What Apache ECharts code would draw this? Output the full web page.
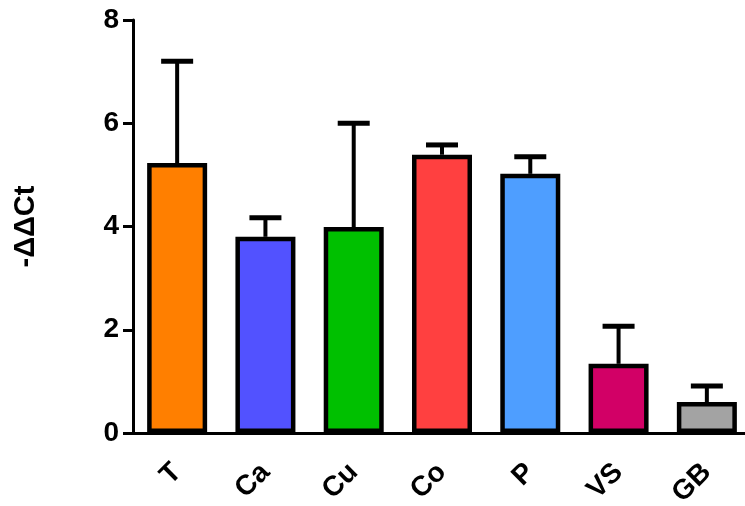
<!DOCTYPE html>
<html><head><meta charset="utf-8">
<script src="https://cdn.jsdelivr.net/npm/echarts@6/dist/echarts.min.js"></script>
<style>html,body{margin:0;padding:0;background:#fff}#c{width:745px;height:506px}</style>
</head><body><div id="c"></div>
<script>
const categories = ['T','Ca','Cu','Co','P','VS','GB'];
const means = [5.23, 3.80, 3.99, 5.39, 5.02, 1.34, 0.60];
const errors = [1.97, 0.37, 2.01, 0.19, 0.33, 0.73, 0.31];
const colors = ['#FF7F00','#5252FF','#00C000','#FF4040','#4E9EFF','#D20066','#A3A3A3'];
const yTicks = [0,2,4,6,8];

const chart = echarts.init(document.getElementById('c'), null, {renderer:'canvas'});
const font = 'Liberation Sans, Arial, Helvetica, sans-serif';
chart.setOption({
  animation:false,
  grid:{left:133, top:20, width:618, height:413, containLabel:false, outerBoundsMode:'none'},
  xAxis:{type:'category', data:categories,
    axisLine:{lineStyle:{color:'#000', width:3}},
    axisTick:{alignWithLabel:true, length:10, lineStyle:{color:'#000', width:3}},
    axisLabel:{rotate:45, margin:35, color:'#000', fontSize:28, fontWeight:'bold', fontFamily:font}
  },
  yAxis:{type:'value', min:0, max:8, interval:2,
    name:'-ΔΔCt', nameLocation:'middle', nameGap:93, nameRotate:90,
    nameTextStyle:{color:'#000', fontSize:29, fontWeight:'bold', fontFamily:font},
    axisLine:{show:true, lineStyle:{color:'#000', width:3}},
    axisTick:{show:true, length:10, lineStyle:{color:'#000', width:3}},
    splitLine:{show:false},
    axisLabel:{margin:14, color:'#000', fontSize:28, fontWeight:'bold', fontFamily:font,
      formatter:v=>yTicks.includes(v)?String(v):''}
  },
  series:[
    {type:'custom', z:1,
      renderItem:function(params, api){
        const i = params.dataIndex;
        const m = api.value(1), e = api.value(2);
        const p0 = api.coord([i, m]);
        const p1 = api.coord([i, m + e]);
        const hw = 16;
        return {type:'group', children:[
          {type:'line', shape:{x1:p0[0], y1:p0[1], x2:p1[0], y2:p1[1]}, style:{stroke:'#000', lineWidth:4}},
          {type:'line', shape:{x1:p1[0]-hw, y1:p1[1], x2:p1[0]+hw, y2:p1[1]}, style:{stroke:'#000', lineWidth:5}}
        ]};
      },
      data: categories.map((c,i)=>[i, means[i], errors[i]])
    },
    {type:'bar', z:2, barWidth:60,
      data: means.map((v,i)=>({value:v, itemStyle:{color:colors[i], borderColor:'#000', borderWidth:4.5}}))
    }
  ]
});
</script></body></html>
